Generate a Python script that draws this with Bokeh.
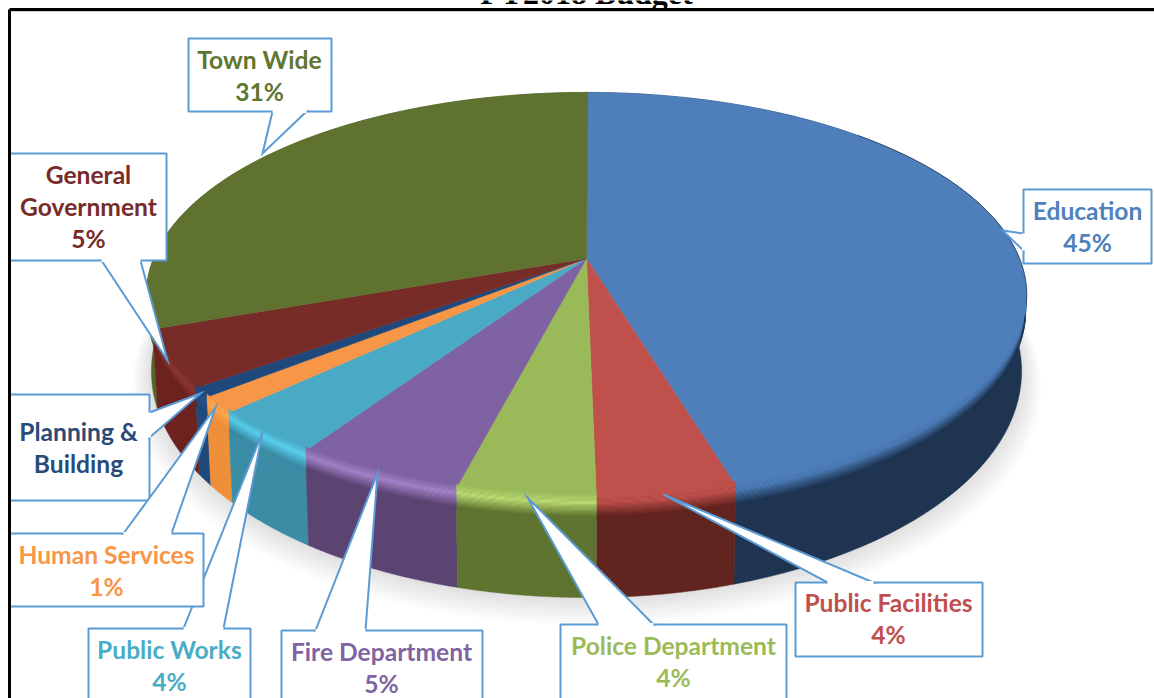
import numpy as np
from bokeh.core.properties import value
from bokeh.embed import file_html
from bokeh.models import ColumnDataSource, Range1d
from bokeh.plotting import figure
from bokeh.resources import INLINE

# Budget shares in percent, clockwise from twelve o'clock
departments = ["Education", "Public Facilities", "Police Department", "Fire Department",
               "Public Works", "Human Services", "Planning & Building",
               "General Government", "Town Wide"]
shares = [45.4, 4.3, 4.3, 5.3, 3.6, 1.3, 0.75, 4.55, 30.55]

face_colors = ["#4e7fbb", "#bf504c", "#9aba59", "#7f62a1", "#4aa9c5", "#f79646", "#1f497d", "#772c28", "#5f7230"]
wall_colors = ["#1f3450", "#62241f", "#5f7431", "#5b4372", "#3b8ca5", "#ee8f3a", "#204a7c", "#6c2320", "#55662a"]
rim_colors = ["#4e7fbb", "#bf504c", "#bede74", "#a686cc", "#5dd3f2", "#ffa94f", "#24548c", "#8e3a36", "#5f7230"]
text_colors = ["#4f81bd", "#c0504d", "#9bbb59", "#8064a2", "#4bacc6", "#f79646", "#2a4a78", "#772c2a", "#5f7530"]

# Callout layout: box (left, top, right, bottom), tail (base, tip, base), text centre x, first line y
callouts = {
    "Education": ((1023, 189, 1151, 263), [(1023, 233), (1002, 230), (1023, 250)], 1087, 210),
    "Public Facilities": ((795, 582, 982, 656), [(873, 582), (663, 494), (827, 582)], 888, 602),
    "Police Department": ((560, 624, 786, 720), [(653, 624), (527, 497), (598, 624)], 673, 645),
    "Fire Department": ((281, 630, 482, 720), [(365, 630), (377, 473), (315, 630)], 381, 651),
    "Public Works": ((88, 628, 250, 720), [(223, 628), (262, 432), (183, 628)], 169, 649),
    "Planning & Building": ((9, 394, 149, 500), [(149, 437), (200, 393), (149, 412)], 78, 431),
    "Human Services": ((9, 533, 203, 606), [(171, 533), (215, 407), (123, 533)], 106, 554),
    "General Government": ((9, 153, 166, 260), [(140, 260), (167, 360), (101, 260)], 88, 174),
    "Town Wide": ((188, 38, 331, 111), [(306, 111), (262, 153), (272, 111)], 259, 59),
}
wrapped = {"General Government": ["General", "Government"], "Planning & Building": ["Planning &", "Building"]}
drawing_order = ["Education", "Public Facilities", "Police Department", "Fire Department", "Public Works",
                 "Planning & Building", "Human Services", "General Government", "Town Wide"]

CX, KEYSTONE = 586.0, 0.18
TOP = dict(cy=258.0, rx=433.0, ry=196.0)
BOTTOM = dict(cy=330.0, rx=428.0, ry=219.0)


def rim(theta_deg, level):
    """Screen position on the disc edge; level 0 is the top face, 1 the bottom edge."""
    t = np.radians(theta_deg)
    u, v = np.sin(t), np.cos(t)
    w = 1 + KEYSTONE * v
    top_x, top_y = CX + TOP["rx"] * u / w, TOP["cy"] - TOP["ry"] * v / w
    bot_x, bot_y = CX + BOTTOM["rx"] * u / w, BOTTOM["cy"] - BOTTOM["ry"] * v / w
    return top_x + (bot_x - top_x) * level, top_y + (bot_y - top_y) * level


def mix(a, b, f):
    ca = [int(a[i:i + 2], 16) for i in (1, 3, 5)]
    cb = [int(b[i:i + 2], 16) for i in (1, 3, 5)]
    return "#%02x%02x%02x" % tuple(round(x + (y - x) * f) for x, y in zip(ca, cb))


p = figure(width=1154, height=698, output_backend="svg", toolbar_location=None,
           x_range=Range1d(0, 1154), y_range=Range1d(698, 0),
           x_axis_location=None, y_axis_location=None, min_border=0,
           outline_line_color=None, background_fill_color="white", border_fill_color="white")
p.grid.visible = False

# Soft shadow under the disc
sweep = np.linspace(0, 360, 361)
for step in range(1, 11):
    sx, sy = rim(sweep, 1)
    cy = BOTTOM["cy"]
    p.patch(CX + (sx - CX) * (1 + 0.0045 * step), cy + (sy - cy) * (1 + 0.0045 * step) + 1.5 * step,
            fill_color="#808080", fill_alpha=0.028, line_color=None)

edges = np.cumsum([0] + shares) * 3.6

# Walls, back to front
wall_xs, wall_ys, wall_fill = [], [], []
for i in [8, 7, 6, 5, 4, 0, 1, 3, 2]:
    th = np.linspace(edges[i], edges[i + 1], 80)
    x0, y0 = rim(th, 0)
    x1, y1 = rim(th, 1)
    wall_xs.append(np.r_[x0, x1[::-1]].tolist())
    wall_ys.append(np.r_[y0, y1[::-1]].tolist())
    wall_fill.append(wall_colors[i])
p.patches(wall_xs, wall_ys, fill_color=wall_fill, line_color=wall_fill, line_width=0.5)

# Top face wedges
face_xs, face_ys = [], []
for i in range(len(shares)):
    th = np.linspace(edges[i], edges[i + 1], 120)
    x0, y0 = rim(th, 0)
    face_xs.append(np.r_[CX, x0].tolist())
    face_ys.append(np.r_[TOP["cy"], y0].tolist())
p.patches(face_xs, face_ys, fill_color=face_colors, line_color=face_colors, line_width=0.5)

# Rounded bevel where each wedge turns over into its wall
levels = np.linspace(-0.04, 0.21, 22)
for i in range(len(shares)):
    lo, hi = max(edges[i], 103.0), min(edges[i + 1], 257.0)
    if hi <= lo:
        continue
    th = np.linspace(lo, hi, 60)
    xs, ys, fills = [], [], []
    for a, b in zip(levels[:-1], levels[1:]):
        xa, ya = rim(th, a)
        xb, yb = rim(th, b)
        xs.append(np.r_[xa, xb[::-1]].tolist())
        ys.append(np.r_[ya, yb[::-1]].tolist())
        mid = (a + b) / 2
        if mid < 0.05:
            fills.append(mix(face_colors[i], rim_colors[i], (mid + 0.04) / 0.09))
        else:
            fills.append(mix(rim_colors[i], wall_colors[i], min(1.0, (mid - 0.05) / 0.14)))
    p.patches(xs, ys, fill_color=fills, line_color=fills, line_width=0.4)

# Fine dark edge along the far right of the disc
th = np.linspace(45, 103, 60)
ex, ey = rim(th, 0)
p.line(ex, ey, line_color="#1f3450", line_width=1, line_alpha=0.55)

# Callout boxes with their pointers
box_blue = "#5b9bd5"
for name in drawing_order:
    (l, t, r, b), tail, _, _ = callouts[name]
    bx, by = [l, r, r, l], [t, t, b, b]
    p.patch(bx, by, fill_color="white", line_color=box_blue, line_width=2)
    p.patch([q[0] for q in tail], [q[1] for q in tail], fill_color="white", line_color=box_blue,
            line_width=2, line_join="miter")
    # Opening where the pointer joins the box
    p.line([tail[0][0], tail[2][0]], [tail[0][1], tail[2][1]], line_color="white", line_width=3)

# Labels: department name lines, then the rounded share
rows = dict(x=[], y=[], text=[], color=[])
for i, name in enumerate(departments):
    _, _, cx, y = callouts[name]
    lines = list(wrapped.get(name, [name]))
    if name != "Planning & Building":
        lines.append(f"{round(shares[i])}%")
    for n, line in enumerate(lines):
        rows["x"].append(cx)
        rows["y"].append(y + n * 32)
        rows["text"].append(line)
        rows["color"].append(text_colors[i])
p.text("x", "y", "text", source=ColumnDataSource(rows), text_color="color", text_font=value("Lato"),
       text_font_style="bold", text_font_size="24.6px", text_align="center", text_baseline="middle")

# Page frame and title running off the top edge
p.line([9, 9], [698, 9], line_color="black", line_width=3)
p.line([9, 1154], [9, 9], line_color="black", line_width=3)
p.line([11, 1154], [11, 11], line_color="#c8c8c8", line_width=1)
p.text([586], [-8], ["FY2018 Budget"], text_color="black", text_font=value("Liberation Serif"),
       text_font_style="bold", text_font_size="32px", text_align="center", text_baseline="alphabetic")

open("out.html", "w").write(file_html(p, INLINE))
